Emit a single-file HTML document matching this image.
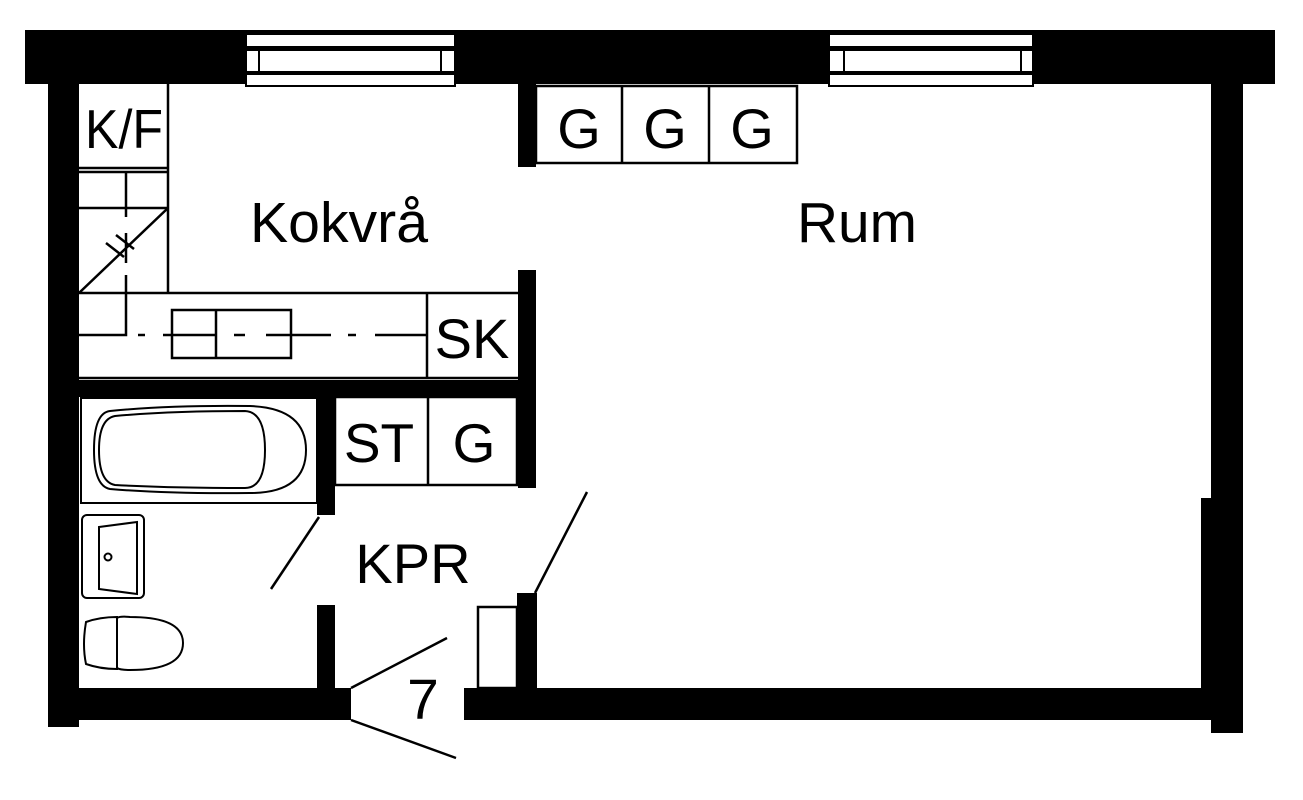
<!DOCTYPE html>
<html><head><meta charset="utf-8"><style>html,body{margin:0;padding:0;background:#fff}svg{display:block}text{font-family:"Liberation Sans",sans-serif;fill:#000}</style></head>
<body>
<svg width="1303" height="800" viewBox="0 0 1303 800" xmlns="http://www.w3.org/2000/svg">
<rect width="1303" height="800" fill="#fff"/>
<g fill="#000">
<rect x="25" y="30" width="1250" height="54"/>
<rect x="48" y="84" width="31" height="643"/>
<rect x="1211" y="84" width="32" height="649"/>
<rect x="1201" y="498" width="12" height="200"/>
<rect x="48" y="688" width="303" height="32"/>
<rect x="464" y="688" width="760" height="32"/>
<rect x="518" y="84" width="18" height="83"/>
<rect x="518" y="270" width="18" height="218"/>
<rect x="79" y="380" width="457" height="17"/>
<rect x="317" y="380" width="18" height="135"/>
<rect x="317" y="605" width="18" height="83"/>
<rect x="517" y="593" width="20" height="95"/>
</g>
<g fill="#fff" stroke="#000" stroke-width="2">
<rect x="246" y="34" width="209" height="13"/>
<rect x="246" y="50" width="209" height="22"/>
<rect x="246" y="74" width="209" height="12"/>
<line x1="259" y1="50" x2="259" y2="72"/><line x1="441" y1="50" x2="441" y2="72"/>
<rect x="829" y="34" width="204" height="13"/>
<rect x="829" y="50" width="204" height="22"/>
<rect x="829" y="74" width="204" height="12"/>
<line x1="844" y1="50" x2="844" y2="72"/><line x1="1021" y1="50" x2="1021" y2="72"/>
</g>
<g fill="none" stroke="#000" stroke-width="2.5">
<line x1="168" y1="84" x2="168" y2="293"/>
<line x1="79" y1="168" x2="168" y2="168"/>
<line x1="79" y1="172" x2="168" y2="172"/>
<line x1="79" y1="208" x2="168" y2="208"/>
<line x1="168" y1="208" x2="79" y2="293"/>
<line x1="79" y1="293" x2="518" y2="293"/>
<line x1="79" y1="378" x2="518" y2="378"/>
<line x1="427" y1="293" x2="427" y2="378"/>
<polyline points="126,172 126,217"/>
<polyline points="126,233 126,263"/>
<polyline points="126,275 126,335 79,335"/>
<line x1="106" y1="243" x2="124" y2="257"/><line x1="116" y1="235" x2="134" y2="249"/>
<rect x="172" y="310" width="119" height="48"/>
<line x1="216" y1="310" x2="216" y2="358"/>
<line x1="138" y1="335" x2="145" y2="335"/>
<line x1="163" y1="335" x2="216" y2="335"/>
<line x1="234" y1="335" x2="245" y2="335"/>
<line x1="266" y1="335" x2="331" y2="335"/>
<line x1="348" y1="335" x2="356" y2="335"/>
<line x1="375" y1="335" x2="427" y2="335"/>
<rect x="536" y="86" width="261" height="77"/>
<line x1="622" y1="86" x2="622" y2="163"/><line x1="709" y1="86" x2="709" y2="163"/>
<rect x="335" y="397" width="182" height="88"/>
<line x1="428" y1="397" x2="428" y2="485"/>
<rect x="81" y="398" width="236" height="105" stroke-width="2"/>
<path d="M110 411 Q170 405 250 406 Q306 408 306 450 Q306 493 250 493 Q170 494 110 489 Q94 486 94 450 Q94 413 110 411 Z" stroke-width="2"/>
<path d="M115 416 Q170 411 245 411 Q265 412 265 450 Q265 488 245 488 Q170 488 115 485 Q99 482 99 450 Q99 419 115 416 Z" stroke-width="2"/>
<rect x="82" y="515" width="62" height="83" rx="5" stroke-width="2"/>
<path d="M99 527 L137 522 L137 594 L99 589 Z" stroke-width="2"/>
<circle cx="108" cy="557" r="3.5" stroke-width="2"/>
<path d="M86 622 Q100 617 117 617 L117 669 Q100 669 86 664 Q82 645 86 622 Z" stroke-width="2"/>
<path d="M117 618 Q120 616 130 617 Q183 617 183 643 Q183 670 130 670 Q120 670 117 668 Z" stroke-width="2"/>
<line x1="319" y1="517" x2="271" y2="589"/>
<line x1="535" y1="593" x2="587" y2="492"/>
<line x1="351" y1="688" x2="447" y2="638"/>
<line x1="351" y1="720" x2="456" y2="758"/>
<rect x="478" y="607" width="39" height="81"/>
</g>
<text x="85" y="148" font-size="55" textLength="78" lengthAdjust="spacingAndGlyphs">K/F</text>
<text x="250" y="242" font-size="57" textLength="178" lengthAdjust="spacingAndGlyphs">Kokvrå</text>
<text x="797" y="242" font-size="57" textLength="120" lengthAdjust="spacingAndGlyphs">Rum</text>
<text x="579" y="148" font-size="56" text-anchor="middle">G</text>
<text x="665" y="148" font-size="56" text-anchor="middle">G</text>
<text x="752" y="148" font-size="56" text-anchor="middle">G</text>
<text x="472" y="358" font-size="56" text-anchor="middle">SK</text>
<text x="379" y="462" font-size="55" text-anchor="middle">ST</text>
<text x="474" y="462" font-size="55" text-anchor="middle">G</text>
<text x="413" y="583" font-size="56" text-anchor="middle">KPR</text>
<text x="423" y="719" font-size="57" text-anchor="middle">7</text>
</svg>
</body></html>
